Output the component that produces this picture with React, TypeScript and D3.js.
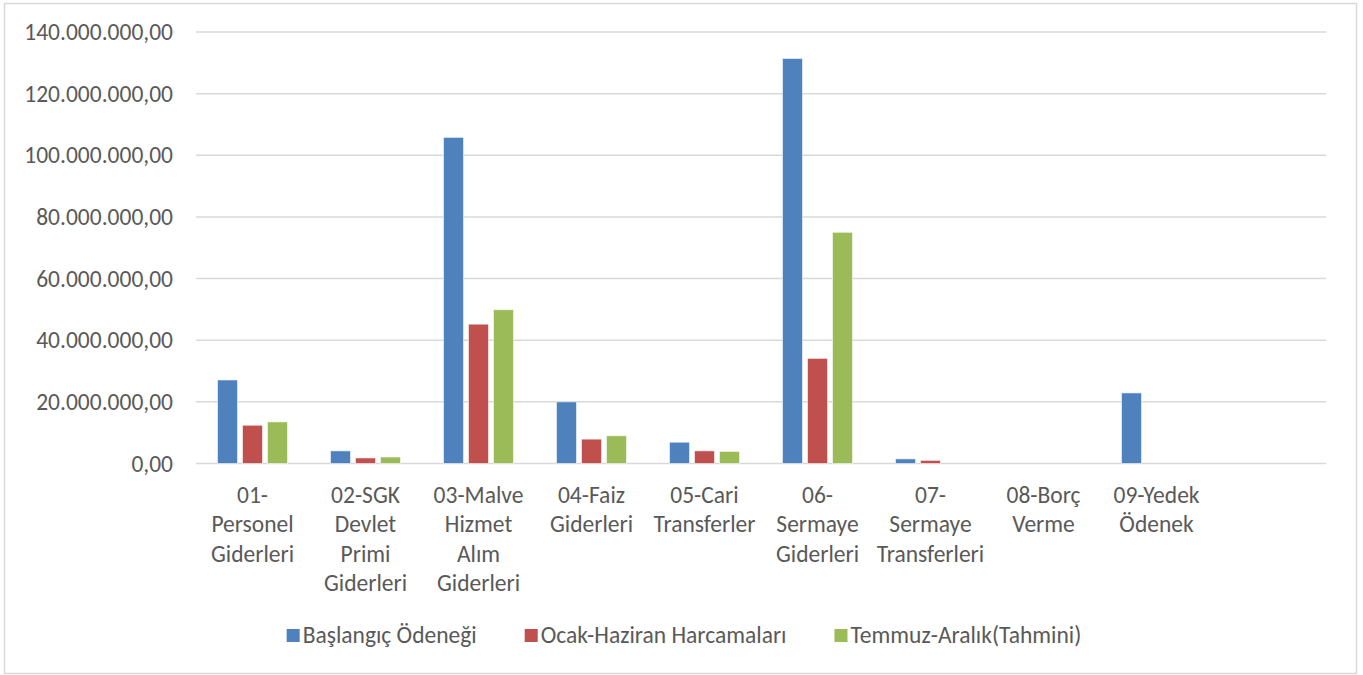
import React, { useEffect, useRef } from "react";
import * as d3 from "d3";

const categories: string[][] = [
  ["01-", "Personel", "Giderleri"],
  ["02-SGK", "Devlet", "Primi", "Giderleri"],
  ["03-Malve", "Hizmet", "Alım", "Giderleri"],
  ["04-Faiz", "Giderleri"],
  ["05-Cari", "Transferler"],
  ["06-", "Sermaye", "Giderleri"],
  ["07-", "Sermaye", "Transferleri"],
  ["08-Borç", "Verme"],
  ["09-Yedek", "Ödenek"],
  [""],
];

const seriesNames = ["Başlangıç Ödeneği", "Ocak-Haziran Harcamaları", "Temmuz-Aralık(Tahmini)"];
const seriesColors = ["#4F81BD", "#C0504D", "#9BBB59"];

const baslangic = [27100000, 4100000, 105800000, 20000000, 6900000, 131400000, 1500000, 0, 22900000, 0];
const ocakHaziran = [12400000, 1800000, 45200000, 7900000, 4100000, 34100000, 1000000, 0, 0, 0];
const temmuzAralik = [13500000, 2100000, 49900000, 9000000, 3900000, 75000000, 0, 0, 0, 0];

const yTicks = [0, 20000000, 40000000, 60000000, 80000000, 100000000, 120000000, 140000000];

const W = 1363;
const H = 675;
const FONT = "Calibri, Carlito, Lato, 'Open Sans', sans-serif";
const FS = 23.5;
const TEXT = "#595959";

const fmt = (v: number) => {
  const s = d3.format(",.2f")(v);
  return s.replace(/,/g, "#").replace(".", ",").replace(/#/g, ".");
};

export default function App() {
  const ref = useRef<SVGSVGElement | null>(null);

  useEffect(() => {
    const svg = d3.select(ref.current);
    svg.selectAll("*").remove();

    // outer frame
    svg.append("rect")
      .attr("x", 4.5).attr("y", 3.5).attr("width", 1352).attr("height", 670)
      .attr("fill", "#fff").attr("stroke", "#d9d9d9").attr("stroke-width", 1.5);

    const left = 196, right = 1326, top = 32, bottom = 463.5;

    const x = d3.scaleBand<number>().domain(categories.map((_, i) => i)).range([left, right]).padding(0);
    const y = d3.scaleLinear().domain([0, 140000000]).range([bottom, top]);
    const inner = d3.scaleBand<number>().domain([0, 1, 2]).range([0, 70]).paddingInner(0.2).paddingOuter(0);

    // gridlines
    svg.append("g").selectAll("line").data(yTicks).join("line")
      .attr("x1", left).attr("x2", right)
      .attr("y1", (d) => y(d)).attr("y2", (d) => y(d))
      .attr("stroke", "#d9d9d9").attr("stroke-width", 1.5);

    // y labels
    svg.append("g").selectAll("text").data(yTicks).join("text")
      .attr("x", 173).attr("y", (d) => y(d) + 8)
      .attr("text-anchor", "end")
      .attr("font-family", FONT).attr("font-size", FS).attr("fill", TEXT)
      .text((d) => fmt(d));

    const series = [baslangic, ocakHaziran, temmuzAralik];
    series.forEach((vals, si) => {
      svg.append("g").selectAll("rect").data(vals.map((v, i) => ({ v, i })).filter((d) => d.v > 0)).join("rect")
        .attr("x", (d) => (x(d.i) as number) + (x.bandwidth() - 70) / 2 + (inner(si) as number))
        .attr("y", (d) => y(d.v))
        .attr("width", inner.bandwidth())
        .attr("height", (d) => bottom - y(d.v))
        .attr("fill", seriesColors[si])
        .attr("stroke", "rgba(255,255,255,0.55)")
        .attr("stroke-width", 1);
    });

    // x labels
    const xl = svg.append("g");
    categories.forEach((lines, i) => {
      const cx = (x(i) as number) + x.bandwidth() / 2;
      lines.forEach((ln, li) => {
        xl.append("text")
          .attr("x", cx).attr("y", 503 + li * 29.3)
          .attr("text-anchor", "middle")
          .attr("font-family", FONT).attr("font-size", FS).attr("fill", TEXT)
          .text(ln);
      });
    });

    // legend
    const lg = svg.append("g");
    const items = seriesNames.map((name, i) => {
      const g = lg.append("g");
      g.append("rect").attr("x", 0).attr("y", -14).attr("width", 13).attr("height", 13).attr("fill", seriesColors[i]);
      const t = g.append("text").attr("x", 16).attr("y", 0)
        .attr("font-family", FONT).attr("font-size", FS).attr("fill", TEXT).text(name);
      const w = (t.node() as SVGTextElement).getComputedTextLength();
      return { g, w: 16 + w };
    });
    const gap = 48;
    const total = items.reduce((a, b) => a + b.w, 0) + gap * (items.length - 1);
    let cur = 684 - total / 2;
    items.forEach((it) => {
      it.g.attr("transform", `translate(${cur},643)`);
      cur += it.w + gap;
    });
  }, []);

  return (
    <div style={{ position: "absolute", left: 0, top: 0 }}>
      <svg ref={ref} width={W} height={H} style={{ display: "block" }} />
    </div>
  );
}
